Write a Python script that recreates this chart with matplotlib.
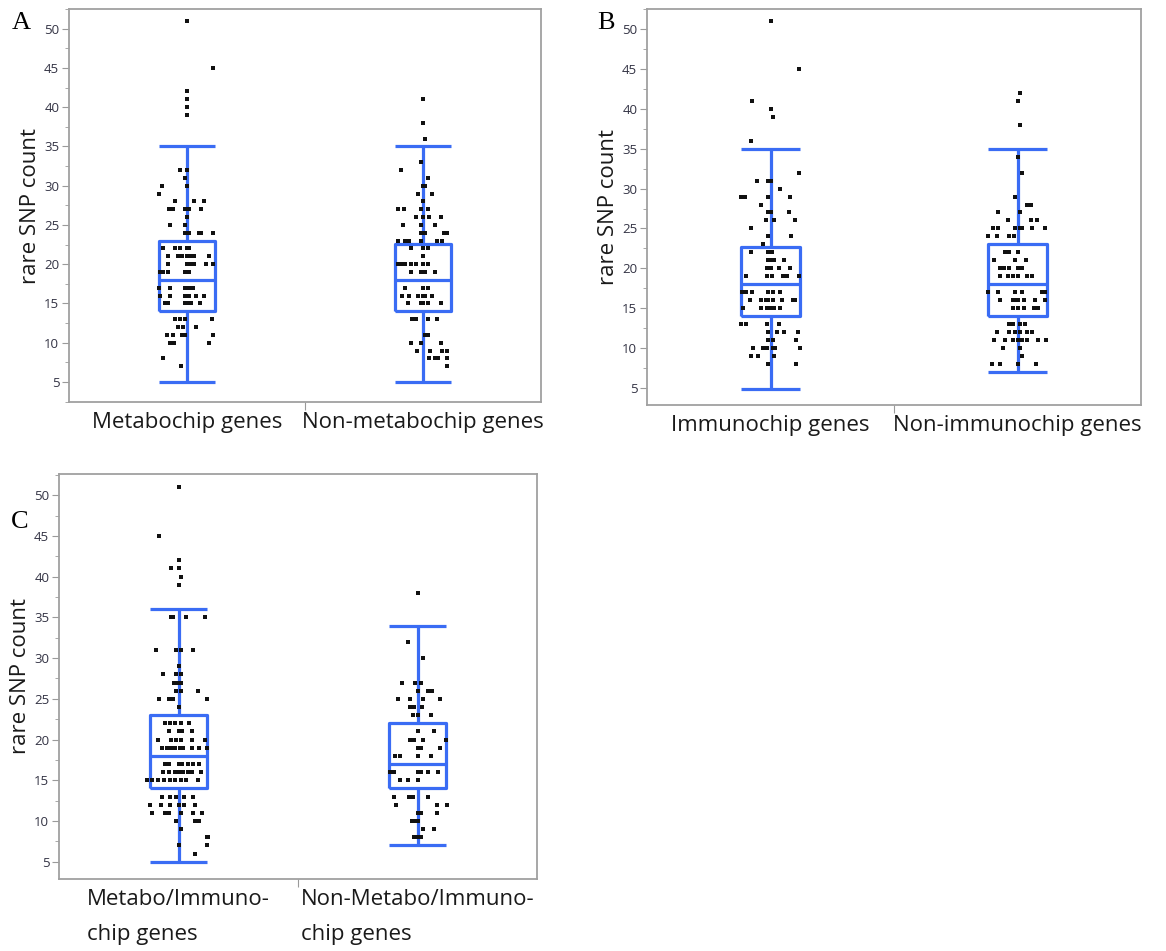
import matplotlib
matplotlib.use("Agg")
import matplotlib.pyplot as plt
from matplotlib.ticker import MultipleLocator, FixedLocator
import numpy as np

# ---- data (values = rare SNP count, jit = horizontal spread) ----
# panel A
a1_vals = [51, 45, 42, 41, 40, 39, 32, 32, 31, 30, 30, 29, 28, 28, 28,
           27, 27, 27, 27, 27, 26, 25, 25, 24, 24, 24, 24, 24,
           22, 22, 22, 22, 22, 21, 21, 21, 21, 21, 21, 21,
           20, 20, 20, 20, 20, 20, 19, 19, 19, 19, 19,
           17, 17, 17, 17, 17, 17, 16, 16, 16, 16, 16, 16,
           15, 15, 15, 15, 15, 15, 15, 13, 13, 13, 13, 12, 12, 12,
           11, 11, 11, 11, 11, 10, 10, 10, 8, 7]
a1_jit = [0, 0.11, 0, 0, 0, 0, -0.03, 0, -0.01, -0.105, 0, -0.12, -0.05, 0.03, 0.07,
          -0.075, -0.06, -0.01, 0.01, 0.06, 0, -0.07, -0.01, -0.01, 0.01, 0.05, 0.06, 0.11,
          -0.10, -0.05, -0.03, 0, 0.01, -0.08, -0.04, -0.02, 0, 0.015, 0.03, 0.095,
          -0.08, 0, 0.015, 0.03, 0.08, 0.11, -0.115, -0.10, -0.08, -0.01, 0.01,
          -0.12, -0.07, -0.01, 0, 0.015, 0.025, -0.115, -0.07, -0.01, 0.01, 0.04, 0.07,
          -0.095, -0.08, -0.01, 0, 0.01, 0.015, 0.055, -0.05, -0.03, -0.01, 0.105, -0.04, -0.015, 0.04,
          -0.085, -0.06, -0.02, -0.01, 0.11, -0.07, -0.055, 0.095, -0.10, -0.025]
a2_vals = [41, 38, 36, 33, 32, 31, 30, 30, 29, 29, 28, 27, 27, 27, 27,
           26, 26, 26, 26, 25, 25, 25, 24, 24, 24, 24, 24,
           23, 23, 23, 23, 23, 23, 22, 22, 22, 21,
           20, 20, 20, 20, 20, 20, 20, 19, 19, 19, 19, 19,
           17, 17, 17, 16, 16, 16, 16, 16, 16, 15, 15, 15, 15, 15,
           13, 13, 13, 13, 11, 11, 10, 10, 10, 9, 9, 9, 9, 8, 8, 8, 8, 7]
a2_jit = [0, 0, 0.01, -0.01, -0.095, 0.02, 0, 0.01, -0.02, 0.04, 0, -0.105, -0.08, -0.01, 0.02,
          -0.03, 0, 0.025, 0.075, -0.085, -0.01, 0.05, -0.01, 0, 0.01, 0.09, 0.10,
          -0.105, -0.075, -0.06, -0.01, 0.06, 0.08, -0.05, 0, 0.02, 0,
          -0.105, -0.09, -0.075, -0.05, -0.03, 0, 0.02, -0.05, -0.01, 0, 0.01, 0.05,
          -0.075, 0, 0.02, -0.09, -0.06, -0.02, 0, 0.01, 0.04, -0.065, -0.01, 0, 0.02, 0.075,
          -0.045, -0.03, 0.02, 0.06, 0.01, 0.02, -0.05, -0.01, 0.075, -0.025, 0.03, 0.08, 0.10,
          0.025, 0.05, 0.065, 0.10, 0.10]
# panel B
b1_vals = [51, 45, 41, 40, 39, 36, 32, 31, 31, 31, 30, 29, 29, 29, 29, 28,
           27, 27, 27, 26, 26, 26, 25, 24, 24, 23, 22, 22, 22,
           21, 21, 21, 21, 20, 20, 20, 20, 19, 19, 19, 19, 19, 19,
           17, 17, 17, 17, 17, 17, 16, 16, 16, 16, 16, 16, 16, 16,
           15, 15, 15, 15, 15, 15, 13, 13, 13, 13, 12, 12, 12, 12, 11, 11, 11,
           10, 10, 10, 10, 10, 10, 9, 9, 9, 8, 8]
b1_jit = [0, 0.115, -0.075, 0, 0.01, -0.08, 0.115, -0.055, -0.01, 0, 0.04, -0.12, -0.105, -0.01, 0.08, -0.04,
          -0.01, 0, 0.075, -0.02, 0.015, 0.1, -0.08, -0.01, 0.085, -0.03, -0.08, -0.01, 0.005,
          -0.01, 0.005, 0.015, 0.055, -0.015, 0, 0.035, 0.08, -0.1, -0.015, 0.005, 0.05, 0.065, 0.115,
          -0.115, -0.1, -0.075, -0.01, 0.01, 0.04, -0.085, -0.04, -0.02, -0.01, 0.01, 0.045, 0.09, 0.1,
          -0.11, -0.04, -0.015, 0, 0.015, 0.04, -0.12, -0.1, -0.015, 0.035, -0.01, 0.025, 0.055, 0.11, -0.01, 0.01, 0.105,
          -0.07, -0.03, -0.015, 0.01, 0.02, 0.12, -0.08, -0.05, 0.015, -0.01, 0.105]
b2_vals = [42, 41, 38, 34, 32, 29, 28, 28, 27, 27, 26, 26, 26,
           25, 25, 25, 25, 25, 25, 25, 24, 24, 24, 24, 22, 22, 22, 21, 21, 21,
           20, 20, 20, 20, 20, 19, 19, 19, 19, 19, 19,
           17, 17, 17, 17, 17, 17, 16, 16, 16, 16, 16, 16, 16,
           15, 15, 15, 15, 15, 13, 13, 13, 13, 12, 12, 12, 12, 12, 12,
           11, 11, 11, 11, 11, 11, 11, 11, 10, 10, 9, 8, 8, 8, 8]
b2_jit = [0.01, 0, 0.01, 0, 0.02, -0.01, 0.04, 0.055, -0.08, 0.01, -0.04, 0.055, 0.08,
          -0.1, -0.08, -0.01, 0.01, 0.02, 0.06, 0.11, -0.12, -0.085, -0.035, -0.015, -0.05, -0.035, 0, -0.095, -0.01, 0.035,
          -0.07, -0.055, -0.035, 0, 0.02, -0.07, -0.04, -0.02, 0, 0.04, 0.06,
          -0.12, -0.08, -0.01, 0.02, 0.1, 0.11, -0.07, -0.02, -0.01, 0, 0.025, 0.07, 0.11,
          -0.02, 0, 0.025, 0.065, 0.085, -0.035, -0.02, 0.01, 0.03, -0.085, -0.035, -0.01, 0.01, 0.04, 0.06,
          -0.095, -0.05, -0.02, 0, 0.02, 0.04, 0.085, 0.115, -0.06, 0.01, 0.02, -0.105, -0.07, 0, 0.075]
# panel C
c1_vals = [51, 45, 42, 41, 41, 40, 39, 35, 35, 35, 35, 31, 31, 31, 31, 29, 28, 28, 28,
           27, 27, 27, 26, 26, 26, 25, 25, 25, 25, 24,
           22, 22, 22, 22, 22, 21, 21, 21, 21, 20, 20, 20, 20, 20, 20,
           19, 19, 19, 19, 19, 19, 19, 19, 19, 17, 17, 17, 17, 17, 17, 17,
           16, 16, 16, 16, 16, 16, 16, 16, 15, 15, 15, 15, 15, 15, 15, 15, 15,
           13, 13, 13, 13, 13, 12, 12, 12, 12, 12, 12, 11, 11, 11, 11, 11, 11,
           10, 10, 10, 9, 8, 8, 7, 7, 6]
c1_jit = [0, -0.08, 0, -0.03, 0, 0.01, 0, -0.03, -0.025, 0.03, 0.11, -0.095, -0.01, 0.01, 0.06, 0, -0.065, -0.01, 0.01,
          -0.02, -0.005, 0.01, -0.01, 0.01, 0.08, -0.08, -0.04, -0.025, 0.12, 0,
          -0.055, -0.035, -0.015, 0.01, 0.045, -0.04, 0, 0.015, 0.055, -0.085, -0.03, -0.01, 0.01, 0.055, 0.11,
          -0.07, -0.05, -0.03, -0.015, 0.005, 0.02, 0.055, 0.085, 0.12, -0.055, -0.04, 0, 0.015, 0.04, 0.06, 0.085,
          -0.065, -0.04, -0.015, 0, 0.02, 0.04, 0.055, 0.095, -0.13, -0.11, -0.085, -0.06, -0.035, -0.015, 0.01, 0.03, 0.08,
          -0.07, -0.035, -0.01, 0.025, 0.06, -0.12, -0.075, -0.035, 0, 0.025, 0.07, -0.11, -0.055, -0.04, 0.01, 0.06, 0.1,
          -0.01, 0.07, 0.085, 0.01, 0.12, 0.125, 0, 0.12, 0.07]
c2_vals = [38, 32, 30, 27, 27, 27, 26, 26, 26, 25, 25, 25, 25, 24, 24, 24, 23, 23, 23,
           21, 21, 20, 20, 20, 20, 19, 19, 19, 18, 18, 18, 18,
           16, 16, 16, 16, 16, 16, 15, 15, 15, 13, 13, 13, 13, 12, 12, 12,
           11, 11, 11, 10, 10, 10, 9, 9, 8, 8, 8]
c2_jit = [0, -0.04, 0.025, -0.065, -0.01, 0.015, 0, 0.045, 0.06, -0.08, -0.03, 0.025, 0.095, -0.03, -0.015, 0.02, -0.02, 0, 0.055,
          0, 0.07, -0.03, -0.015, 0.025, 0.12, 0, 0.015, 0.095, -0.095, -0.075, 0, 0.055,
          -0.115, -0.1, 0, 0.015, 0.045, 0.085, -0.075, -0.04, 0, -0.1, -0.035, -0.02, 0.045, -0.09, 0.08, 0.125,
          0, 0.015, 0.08, -0.025, -0.015, 0, 0.025, 0.07, -0.015, 0, 0.015]

# box summaries: (whisker low, q1, median, q3, whisker high)
a_boxes = [(5, 14, 18, 23, 35), (5, 14, 18, 22.6, 35)]
b_boxes = [(4.8, 14, 18, 22.7, 35), (7, 14, 18, 23, 35)]
c_boxes = [(5, 14, 18, 23, 36), (7, 14, 17, 22, 34)]

a_labels = ["Metabochip genes", "Non-metabochip genes"]
b_labels = ["Immunochip genes", "Non-immunochip genes"]
c_labels = ["Metabo/Immuno-\nchip genes", "Non-Metabo/Immuno-\nchip genes"]

BLUE = "#3a6cf4"
W, H = 1166, 951

fig = plt.figure(figsize=(W / 100, H / 100), dpi=100)
plt.rcParams['font.family'] = ['Open Sans', 'DejaVu Sans']


def panel(px, letter, letter_xy, boxes, groups, labels, ylim, multiline=False):
    l, t, r, b = px
    ax = fig.add_axes([l / W, 1 - b / H, (r - l) / W, (b - t) / H])
    stats = [dict(whislo=s[0], q1=s[1], med=s[2], q3=s[3], whishi=s[4], fliers=[]) for s in boxes]
    lp = dict(color=BLUE, linewidth=2.3, solid_capstyle='butt')
    ax.bxp(stats, positions=[0, 1], widths=0.24, capwidths=0.24, showfliers=False,
           boxprops=lp, whiskerprops=lp, capprops=lp, medianprops=lp)
    for i, (vals, jit) in enumerate(groups):
        ax.plot(i + np.array(jit), vals, linestyle='', marker='s', ms=2.2, mew=0,
                color='#111111', zorder=4)
    ax.set_xlim(-0.5, 1.5)
    ax.set_ylim(*ylim)
    ax.yaxis.set_major_locator(MultipleLocator(5))
    ax.yaxis.set_minor_locator(MultipleLocator(2.5))
    ax.tick_params(axis='y', which='major', length=5, color='#9a9a9a', labelsize=9.5,
                   labelcolor='#333344', pad=2)
    ax.tick_params(axis='y', which='minor', length=3, color='#9a9a9a')
    # category labels on minor ticks, separator tick in the middle
    ax.xaxis.set_major_locator(FixedLocator([0.5]))
    ax.xaxis.set_minor_locator(FixedLocator([0, 1]))
    ax.set_xticklabels([""])
    ax.set_xticklabels(labels, minor=True)
    ax.tick_params(axis='x', which='major', length=6, color='#9a9a9a')
    ax.tick_params(axis='x', which='minor', length=0, labelsize=16, labelcolor='#1a1a1a', pad=7)
    if multiline:
        for tl in ax.xaxis.get_minorticklabels():
            tl.set_multialignment('left')
            tl.set_linespacing(1.9)
    for sp in ax.spines.values():
        sp.set_color('#a0a0a0')
        sp.set_linewidth(1.3)
    ax.set_ylabel("rare SNP count", fontsize=16, color='#1a1a1a', labelpad=2)
    fig.text(letter_xy[0] / W, 1 - letter_xy[1] / H, letter, family='Liberation Serif',
             fontsize=19, ha='left', va='center')
    return ax


panel((69, 9, 541, 402), "A", (12, 23), a_boxes, [(a1_vals, a1_jit), (a2_vals, a2_jit)],
      a_labels, (2.45, 52.5))
panel((647, 9, 1141, 405), "B", (597, 23), b_boxes, [(b1_vals, b1_jit), (b2_vals, b2_jit)],
      b_labels, (2.83, 52.55))
panel((59, 474, 537, 879), "C", (11, 522), c_boxes, [(c1_vals, c1_jit), (c2_vals, c2_jit)],
      c_labels, (2.88, 52.6), multiline=True)

fig.savefig("out.png", dpi=100)
